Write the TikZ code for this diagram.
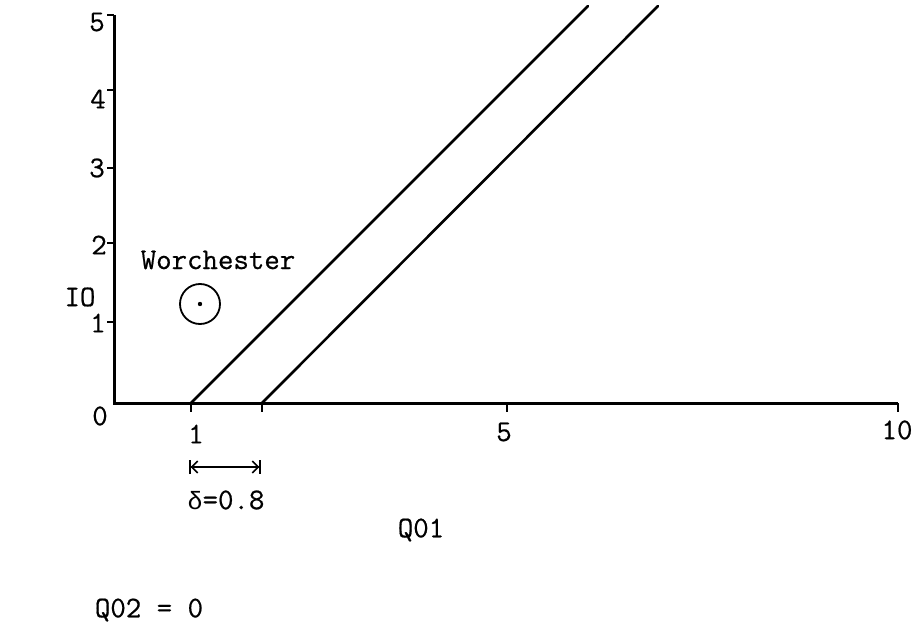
\documentclass[tikz,border=0pt]{standalone}
\usepackage{fontspec}
\setmonofont[FakeBold=0.6]{Latin Modern Mono}
\newfontfamily\grk{Liberation Mono}
\usetikzlibrary{arrows.meta}
\begin{document}
\begin{tikzpicture}[x=1pt,y=-1pt,
  lbl/.style={font=\ttfamily\fontsize{30}{34}\selectfont, inner sep=0pt},
  axis/.style={line width=3pt},
  bound/.style={line width=2.6pt, line cap=round},
  tick/.style={line width=2.2pt}]
\useasboundingbox (0,0) rectangle (920,631);
% axes
\coordinate (O) at (114,403);
\coordinate (Ytop) at (114,15);
\coordinate (Xend) at (898,403);
\draw[axis] (Ytop) -- (O) -- (Xend);
% y ticks
\foreach \yy in {15,90,168,243,322}{\draw[tick] (114,\yy) -- (107,\yy);}
% x ticks
\foreach \xx in {191,262,507,898}{\draw[tick] (\xx,403) -- (\xx,412);}
% y labels
\node[lbl] (y5) at (97,22) {5};
\node[lbl] (y4) at (98,99) {4};
\node[lbl] (y3) at (97,168) {3};
\node[lbl] (y2) at (99,245) {2};
\node[lbl] (y1) at (98,323) {1};
% x labels
\node[lbl] (x0) at (100,416) {0};
\node[lbl] (x1) at (196,434) {1};
\node[lbl] (x5) at (504,432) {5};
\node[lbl] (x10) at (897,430) {10};
% axis titles
\node[lbl] (io) at (80,297) {IO};
\node[lbl] (q01) at (421,530) {Q01};
\node[lbl] (q02) at (149,610) {Q02 = 0};
% boundary lines
\coordinate (a1) at (191,403);
\coordinate (a2) at (588,6);
\coordinate (b1) at (262,403);
\coordinate (b2) at (658,6);
\draw[bound] (a1) -- (a2);
\draw[bound] (b1) -- (b2);
% Worchester
\node[circle, draw, line width=1.8pt, minimum size=40pt, inner sep=0pt] (city) at (200,304) {};
\fill (city.center) circle (2.2pt);
\node[lbl] (wor) at (218,260) {Worchester};
% delta
\coordinate (d1) at (189,467);
\coordinate (d2) at (261,467);
\draw[line width=1.6pt, {Bar[width=14pt]Straight Barb[length=6pt,width=12pt]}-{Straight Barb[length=6pt,width=12pt]Bar[width=14pt]}] (d1) -- (d2);
\node[lbl] (delta) at (226,500) {{\grk\fontsize{25}{28}\selectfont δ}=0.8};
\end{tikzpicture}
\end{document}
